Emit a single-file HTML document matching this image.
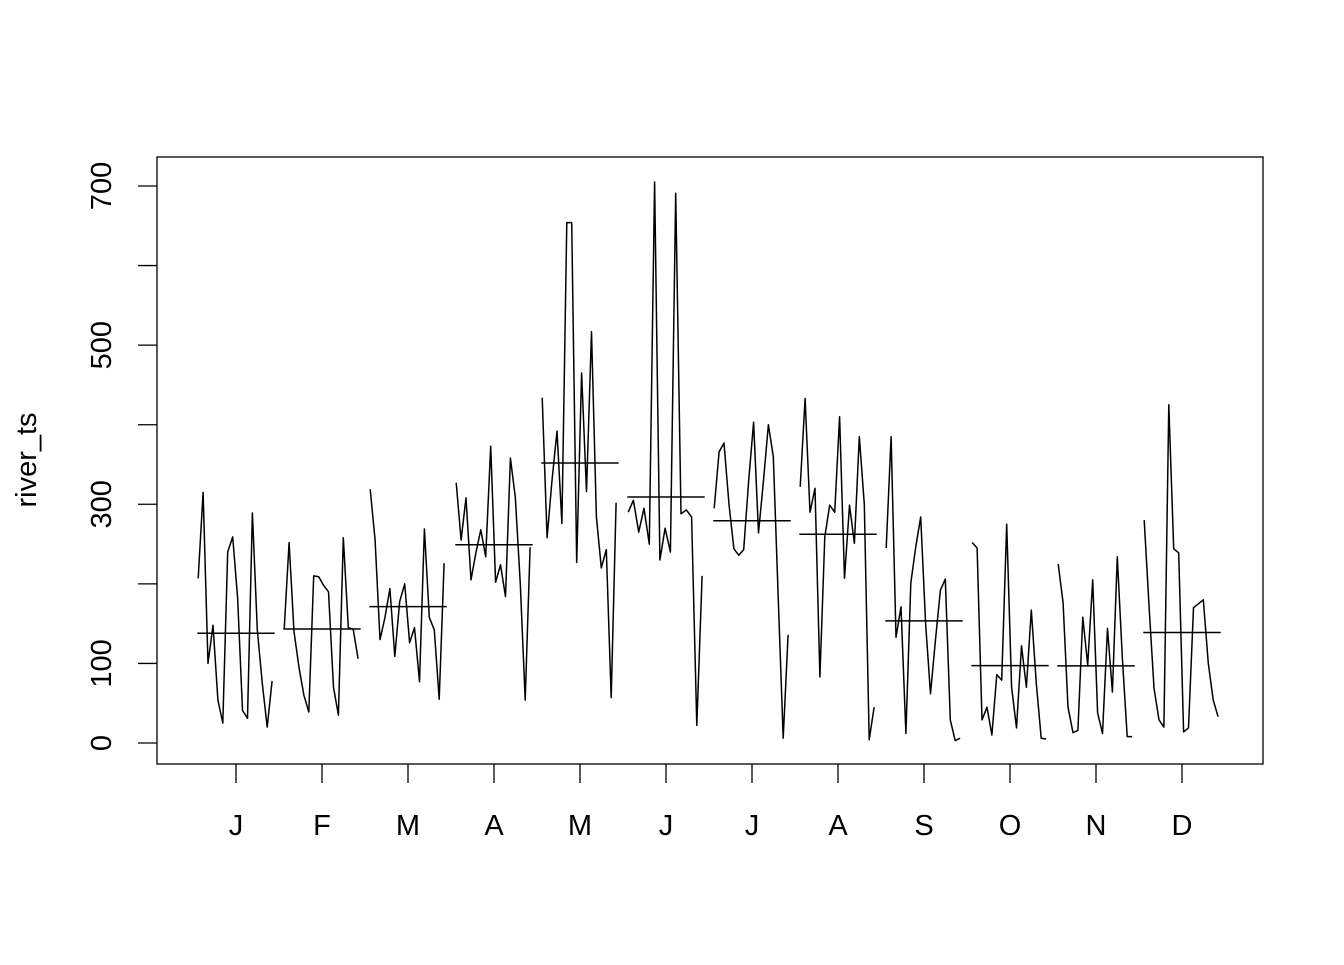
<!DOCTYPE html>
<html><head><meta charset="utf-8"><style>
body{margin:0;background:#fff;}
svg text{font-family:"Liberation Sans",Arial,sans-serif;fill:#000;}
</style></head><body>
<svg id="chart" width="1344" height="960" viewBox="0 0 1344 960" xmlns="http://www.w3.org/2000/svg">
<rect x="0" y="0" width="1344" height="960" fill="#fff"/>
<rect x="157" y="157" width="1106" height="607" fill="none" stroke="#000" stroke-width="1.3"/>
<g id="yaxis"></g>
<g id="xaxis"></g>
<g id="series"></g>
<text x="0" y="0" transform="translate(36,460) rotate(-90)" text-anchor="middle" font-size="29">river_ts</text>
</svg>
<script>
const months = ["J","F","M","A","M","J","J","A","S","O","N","D"];
const yTicks = [0,100,200,300,400,500,600,700];
const yTickLabels = ["0","100","","300","","500","","700"];
const janVals = [207,315,100,148,54,25,240,259,183,41,31,289,142,75,20,78];
const febVals = [143,252,140,95,60,39,210,209,198,190,70,35,258,145,143,106];
const marVals = [319,255,130,158,194,109,178,200,126,145,77,269,158,142,55,226];
const aprVals = [327,255,308,205,239,268,234,373,202,224,184,358,309,200,54,246];
const mayVals = [434,258,330,392,276,654,654,227,465,316,517,284,220,243,57,302];
const junVals = [290,305,265,295,250,705,230,270,240,691,288,293,284,22,210];
const julVals = [295,366,377,300,244,236,243,330,403,264,330,400,360,180,6,136];
const augVals = [322,433,290,320,83,259,299,290,410,207,299,251,385,300,4,45];
const sepVals = [245,385,133,171,12,201,246,284,150,62,130,192,206,29,3,6];
const octVals = [252,245,29,45,10,86,79,275,70,19,122,70,167,75,6,5];
const novVals = [225,176,45,13,16,158,98,205,38,12,144,64,234,108,8,8];
const decVals = [280,171,69,29,20,425,244,239,14,19,170,175,180,100,54,33];
const seriesByMonth = [janVals,febVals,marVals,aprVals,mayVals,junVals,julVals,augVals,sepVals,octVals,novVals,decVals];

const NS="http://www.w3.org/2000/svg";
function yS(v){return 743 - v*(557/700);}
function xS(m){return 236 + 86*(m-1);}
function mk(tag,attrs,parent){const e=document.createElementNS(NS,tag);for(const k in attrs)e.setAttribute(k,attrs[k]);parent.appendChild(e);return e;}

const ya=document.getElementById('yaxis');
yTicks.forEach((t,i)=>{
  const y=yS(t);
  const tk=mk('line',{x1:138,x2:157,y1:y,y2:y,stroke:'#000','stroke-width':1.3},ya);
  
  
  if(yTickLabels[i]){
    const tx=mk('text',{x:0,y:0,transform:`translate(111,${y}) rotate(-90)`,'text-anchor':'middle','font-size':29},ya);
    tx.textContent=yTickLabels[i];
    
    
  }
});
const xa=document.getElementById('xaxis');
months.forEach((m,i)=>{
  const x=xS(i+1);
  const tk=mk('line',{x1:x,x2:x,y1:764,y2:783,stroke:'#000','stroke-width':1.3},xa);
  
  
  const tx=mk('text',{x:x,y:835,'text-anchor':'middle','font-size':29},xa);
  tx.textContent=m;
  
  
});
const sg=document.getElementById('series');
seriesByMonth.forEach((vals,i)=>{
  const m=i+1,n=vals.length;
  const pts=vals.map((v,j)=>{const xv=m-0.44+j*(0.86/(n-1));return (236+86*(xv-1)).toFixed(1)+','+yS(v).toFixed(1);}).join(' ');
  const pl=mk('polyline',{points:pts,fill:'none',stroke:'#000','stroke-width':1.5,'stroke-linejoin':'round'},sg);
  
  
  const mean=vals.reduce((a,b)=>a+b,0)/n;
  const ml=mk('line',{x1:xS(m-0.45),x2:xS(m+0.45),y1:yS(mean),y2:yS(mean),stroke:'#000','stroke-width':1.5},sg);
  
  
});
</script>
</body></html>
